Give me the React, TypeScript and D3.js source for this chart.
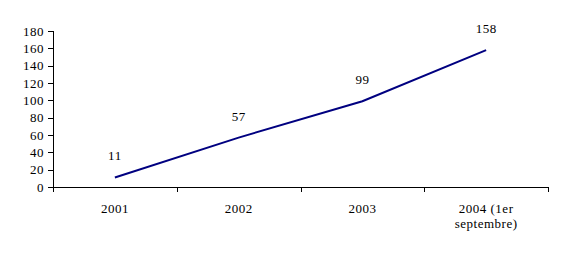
import React from "react";
import * as d3 from "d3";

const categories = ["2001", "2002", "2003", "2004 (1er septembre)"];
const categoryLines = [["2001"], ["2002"], ["2003"], ["2004 (1er", "septembre)"]];
const values = [11, 57, 99, 158];
const yTicks = [0, 20, 40, 60, 80, 100, 120, 140, 160, 180];

export default function App() {
  const W = 566, H = 259;
  const left = 53, right = 548, top = 31, bottom = 187;
  const x = d3.scaleBand<string>().domain(categories).range([left, right]).padding(0);
  const y = d3.scaleLinear().domain([0, 180]).range([bottom, top]);
  const cx = (c: string) => (x(c) as number) + x.bandwidth() / 2;
  const line = d3
    .line<number>()
    .x((_, i) => cx(categories[i]))
    .y((d) => y(d));
  const font = "'Liberation Serif', 'Times New Roman', serif";
  const boundaries = [left, ...categories.map((c) => (x(c) as number) + x.bandwidth())];
  const ls = 0.5;
  return (
    <svg width={W} height={H} style={{ position: "absolute", left: 0, top: 0, background: "#fff" }} fontFamily={font}>
      {/* y axis */}
      <line x1={left + 0.5} x2={left + 0.5} y1={top} y2={bottom} stroke="#000" />
      {yTicks.map((t) => (
        <g key={t}>
          <line x1={left - 5} x2={left} y1={Math.round(y(t)) + 0.5} y2={Math.round(y(t)) + 0.5} stroke="#000" />
          <text x={left - 9} y={y(t)} dy="0.35em" textAnchor="end" fontSize={13} letterSpacing={ls}>
            {t}
          </text>
        </g>
      ))}
      {/* x axis */}
      <line x1={left} x2={right} y1={bottom + 0.5} y2={bottom + 0.5} stroke="#000" />
      {boundaries.map((b, i) => (
        <line key={i} x1={Math.round(b) + 0.5} x2={Math.round(b) + 0.5} y1={bottom} y2={bottom + 5} stroke="#000" />
      ))}
      {categories.map((c, i) => (
        <text key={c} x={cx(c)} y={213} textAnchor="middle" fontSize={13} letterSpacing={ls}>
          {categoryLines[i].map((l, j) => (
            <tspan key={j} x={cx(c)} dy={j === 0 ? 0 : 15}>
              {l}
            </tspan>
          ))}
        </text>
      ))}
      <path d={line(values) || ""} fill="none" stroke="#000080" strokeWidth={2} />
      {values.map((v, i) => (
        <text key={i} x={cx(categories[i])} y={y(v) - 17} textAnchor="middle" fontSize={13} letterSpacing={ls}>
          {v}
        </text>
      ))}
    </svg>
  );
}
